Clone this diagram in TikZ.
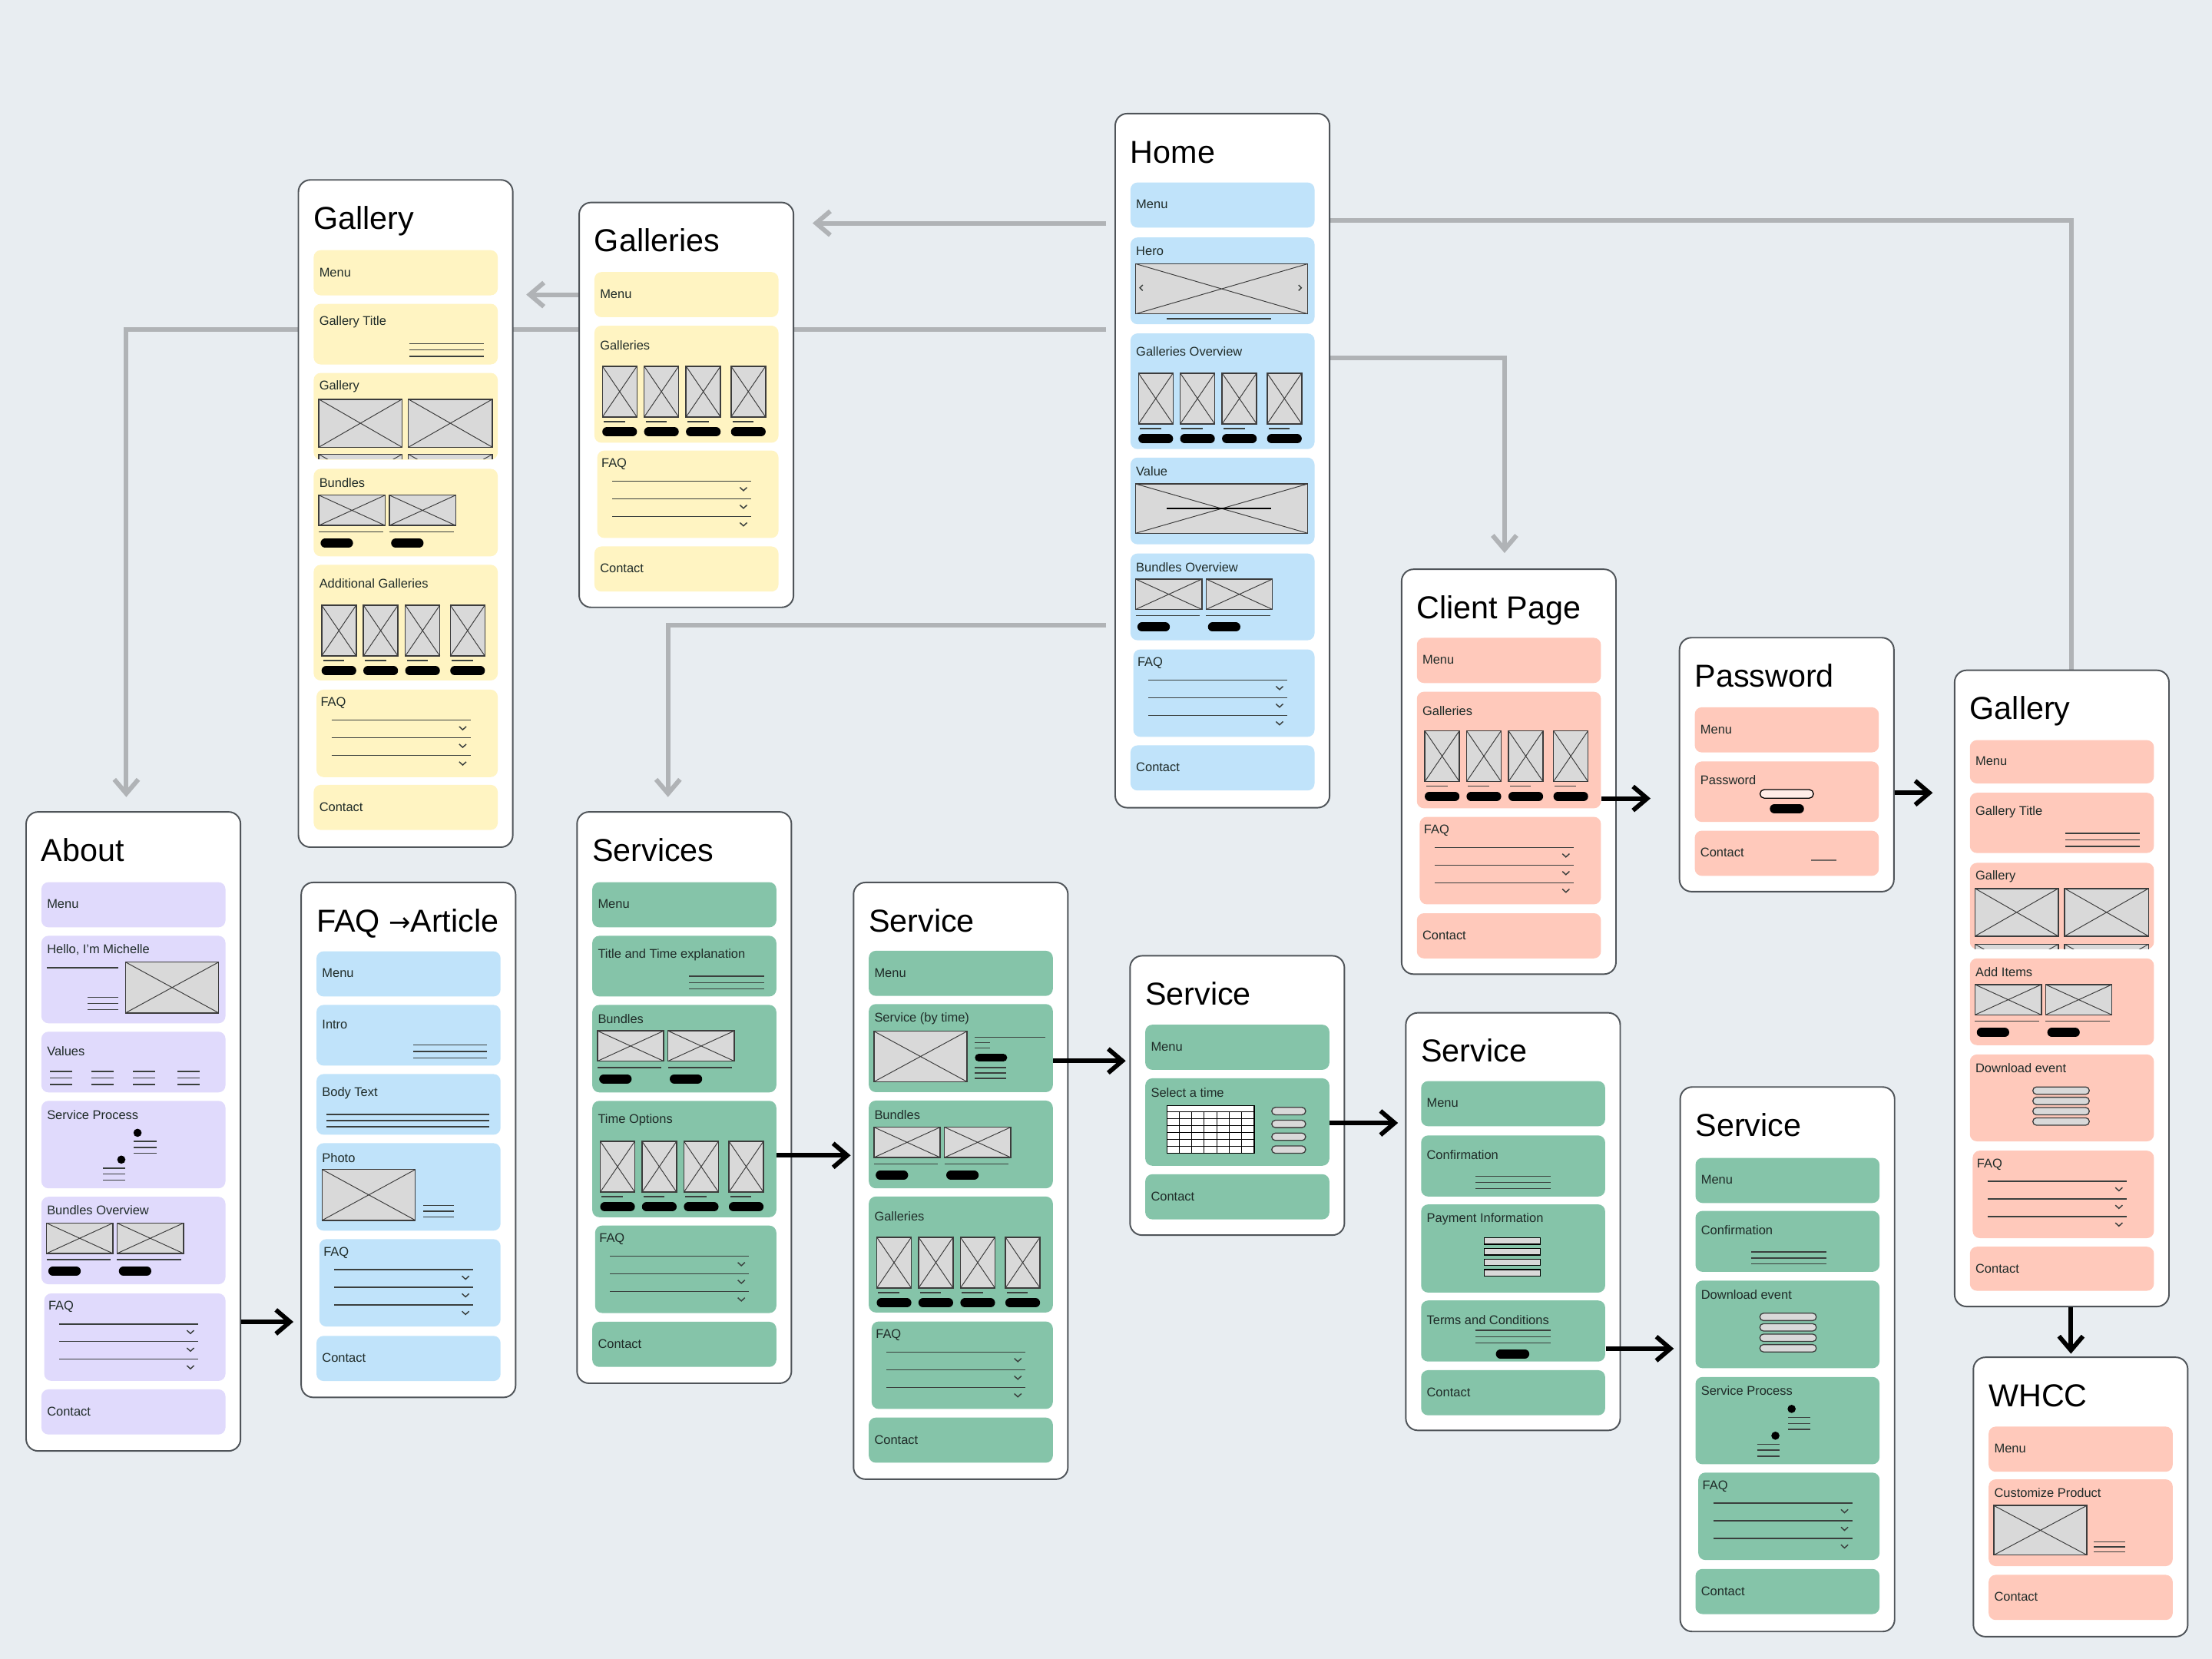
\documentclass[tikz,border=0pt]{standalone}
\usepackage{fontspec}
\setmainfont{Liberation Sans}
\newfontfamily\arrowfont{DejaVu Sans}
\usetikzlibrary{arrows.meta}
\definecolor{canvas}{HTML}{E8EDF1}
\definecolor{cardline}{HTML}{4F5459}
\definecolor{wfblue}{HTML}{C0E3FA}
\definecolor{wfyellow}{HTML}{FFF4C2}
\definecolor{wfpurple}{HTML}{E0DAFC}
\definecolor{wfgreen}{HTML}{85C4A9}
\definecolor{wfsalmon}{HTML}{FFC9BB}
\definecolor{imgfill}{HTML}{D9D9D9}
\definecolor{imgline}{HTML}{3C3C3C}
\definecolor{ruleink}{HTML}{3A3F3D}
\definecolor{labelink}{HTML}{1F2B28}
\definecolor{linkgray}{HTML}{B0B3B6}
\colorlet{sectcol}{wfblue}

\pgfdeclarelayer{bg}
\pgfsetlayers{bg,main}

% page card with its title, sets the card's left edge
\newcommand{\wfcard}[5]{%
  \node[card, minimum height={#4*0.02cm}] (#1) at (#2,#3) {};
  \node[cardtitle] (#1-title) at ({#2+11},{#3+35.5}) {#5};
  \def\wfcx{#2}}
% coloured section: name, top, bottom, label y, label
\newcommand{\wfsec}[5]{%
  \node[sect, minimum height={((#3)-(#2))*0.02cm}] (#1) at ({\wfcx+11},{#2}) {};
  \node[seclabel] (#1-label) at ({\wfcx+15},{#4}) {#5};}
\newcommand{\wfbar}[3]{\wfsec{#1}{#2}{#2+32}{#2+16}{#3}}
% image placeholder
\newcommand{\wfimg}[4]{%
  \draw[imgbox] ({#1},{#2}) rectangle ({#3},{#4});
  \draw[imgx] ({#1},{#2}) -- ({#3},{#4}) ({#1},{#4}) -- ({#3},{#2});}
% three text lines
\newcommand{\wflines}[4]{%
  \foreach \wfk in {0,1,2} {\draw[rule] ({#1},{#3+#4*\wfk}) -- ({#2},{#3+#4*\wfk});}}
% FAQ accordion
\newcommand{\wffaq}[2]{%
  \node[sect, minimum width=2.57cm, minimum height=1.24cm] (#1) at ({\wfcx+13},{#2}) {};
  \node[seclabel] (#1-label) at ({\wfcx+16},{#2+10}) {FAQ};
  \foreach \wfk in {0,1,2} {
    \draw[rule] ({\wfcx+24},{#2+22+12.5*\wfk}) -- ({\wfcx+122.5},{#2+22+12.5*\wfk});
    \draw[rule] ({\wfcx+114.5},{#2+26.5+12.5*\wfk}) -- ({\wfcx+117},{#2+28.8+12.5*\wfk}) -- ({\wfcx+119.5},{#2+26.5+12.5*\wfk});
  }}
% four portrait thumbnails with buttons
\newcommand{\wfthumbs}[1]{%
  \foreach \wfx in {17,46.6,76.3,108.2} {
    \wfimg{\wfcx+\wfx}{#1}{\wfcx+\wfx+24.5}{#1+36}
    \draw[rule] ({\wfcx+\wfx+1},{#1+39.3}) -- ({\wfcx+\wfx+16},{#1+39.3});
    \draw[pill] ({\wfcx+\wfx+3.2},{#1+46.5}) -- ({\wfcx+\wfx+21.3},{#1+46.5});
  }}
% two bundle cards
\newcommand{\wfbundles}[1]{%
  \foreach \wfx in {15,65} {
    \wfimg{\wfcx+\wfx}{#1}{\wfcx+\wfx+47}{#1+21.5}
    \draw[rule] ({\wfcx+\wfx},{#1+26}) -- ({\wfcx+\wfx+45.5},{#1+26});
    \draw[pill] ({\wfcx+\wfx+4.5},{#1+34}) -- ({\wfcx+\wfx+21},{#1+34});
  }}
% two process steps
\newcommand{\wfprocess}[1]{%
  \fill[black] ({\wfcx+79.5},{#1+23}) circle (0.058cm);
  \wflines{\wfcx+77}{\wfcx+93}{#1+29}{4.3}
  \fill[black] ({\wfcx+68},{#1+42}) circle (0.058cm);
  \wflines{\wfcx+55}{\wfcx+71}{#1+48}{4.3}}
% stacked option buttons
\newcommand{\wfoptions}[4]{%
  \foreach \wfk in {0,1,2,3} {\draw[optbox] ({#1},{#3+#4*\wfk-2.6}) rectangle ({#2},{#3+#4*\wfk+2.6});}}

\begin{document}
\begin{tikzpicture}[x=0.02cm, y=-0.02cm]
  % styles
  \tikzstyle{card} = [draw=cardline, fill=white, line width=0.6pt, rounded corners=0.17cm, minimum width=3.04cm, anchor=north west, inner sep=0]
  \tikzstyle{cardtitle} = [anchor=base west, inner sep=0, font=\fontsize{12.8}{14}\selectfont]
  \tikzstyle{sect} = [fill=sectcol, rounded corners=0.1cm, minimum width=2.61cm, anchor=north west, inner sep=0]
  \tikzstyle{seclabel} = [anchor=west, inner sep=0, text=labelink, font=\fontsize{5.1}{6}\selectfont]
  \tikzstyle{rule} = [draw=ruleink, line width=0.45pt]
  \tikzstyle{imgbox} = [fill=imgfill, draw=imgline, line width=0.45pt]
  \tikzstyle{imgx} = [draw=imgline, line width=0.3pt]
  \tikzstyle{pill} = [draw=black, line width=0.13cm, line cap=round]
  \tikzstyle{optbox} = [fill=imgfill, draw=imgline, line width=0.4pt, rounded corners=0.05cm]
  \tikzstyle{link} = [draw=linkgray, line width=1.85pt]
  \tikzstyle{flow} = [draw=black, line width=1.8pt]
  \tikzstyle{barb} = [-{Straight Barb[length=0.2cm, width=0.34cm]}]

  \useasboundingbox (0,0) rectangle (1568,1176);
  \begin{pgfonlayer}{bg}
    \fill[canvas] (0,0) rectangle (1568,1176);
  \end{pgfonlayer}

  % Home
  \colorlet{sectcol}{wfblue}
  \wfcard{home}{790}{80}{492}{Home}
  \wfbar{home-menu}{129}{Menu}
  \wfsec{home-hero}{168}{229.5}{178}{Hero}
  \wfimg{\wfcx+15}{187}{\wfcx+137}{222.5}
  \draw[rule] ({\wfcx+20},202) -- ({\wfcx+18},204) -- ({\wfcx+20},206);
  \draw[rule] ({\wfcx+130.5},202) -- ({\wfcx+132.5},204) -- ({\wfcx+130.5},206);
  \draw[rule] ({\wfcx+37},226) -- ({\wfcx+111},226);
  \wfsec{home-galleries}{236}{318}{249}{Galleries Overview}
  \wfthumbs{264.5}
  \wfsec{home-value}{324}{385.5}{334}{Value}
  \wfimg{\wfcx+15}{343}{\wfcx+137}{378}
  \draw[black, line width=0.8pt] ({\wfcx+37},360.5) -- ({\wfcx+111},360.5);
  \wfsec{home-bundles}{392}{453.5}{402}{Bundles Overview}
  \wfbundles{410.5}
  \wffaq{home-faq}{460}
  \wfbar{home-contact}{528}{Contact}

  % Gallery (public)
  \colorlet{sectcol}{wfyellow}
  \wfcard{gallery}{211}{127}{473}{Gallery}
  \wfbar{gallery-menu}{177}{Menu}
  \wfsec{gallery-heading}{215}{258}{228.5}{Gallery Title}
  \wflines{\wfcx+79}{\wfcx+132}{243.5}{4.5}
  \wfsec{gallery-grid}{264}{325.5}{274}{Gallery}
  \wfimg{\wfcx+15}{283}{\wfcx+74}{317}
  \wfimg{\wfcx+78.5}{283}{\wfcx+138}{317}
  \begin{scope}
    \clip ({\wfcx+11},264) rectangle ({\wfcx+141.5},325.5);
    \wfimg{\wfcx+15}{322}{\wfcx+74}{356}
    \wfimg{\wfcx+78.5}{322}{\wfcx+138}{356}
  \end{scope}
  \wfsec{gallery-bundles}{332}{394}{342}{Bundles}
  \wfbundles{351}
  \wfsec{gallery-more}{400}{482}{413.5}{Additional Galleries}
  \wfthumbs{429}
  \wffaq{gallery-faq}{488.5}
  \wfbar{gallery-contact}{556}{Contact}

  % Galleries
  \wfcard{galleries}{410}{143}{287}{Galleries}
  \wfbar{galleries-menu}{192.5}{Menu}
  \wfsec{galleries-list}{230.5}{313.5}{244.7}{Galleries}
  \wfthumbs{259.6}
  \wffaq{galleries-faq}{319}
  \wfbar{galleries-contact}{387}{Contact}

  % About
  \colorlet{sectcol}{wfpurple}
  \wfcard{about}{18}{575}{453}{About}
  \wfbar{about-menu}{625}{Menu}
  \wfsec{about-hello}{663}{725}{673.5}{Hello, I’m Michelle}
  \draw[rule] ({\wfcx+15},686) -- ({\wfcx+66},686);
  \wflines{\wfcx+44}{\wfcx+66}{707}{4.3}
  \wfimg{\wfcx+71}{682}{\wfcx+137}{718}
  \wfsec{about-values}{731}{774}{745}{Values}
  \foreach \wfx in {17.6,46.6,76.4,108} {\wflines{\wfcx+\wfx}{\wfcx+\wfx+15.8}{759.5}{4.6}}
  \wfsec{about-process}{780}{842}{790.5}{Service Process}
  \wfprocess{780}
  \wfsec{about-bundles}{848}{910}{858}{Bundles Overview}
  \wfbundles{867}
  \wffaq{about-faq}{916.5}
  \wfbar{about-contact}{984.5}{Contact}

  % FAQ article
  \colorlet{sectcol}{wfblue}
  \wfcard{article}{213}{625}{365}{FAQ {\arrowfont\fontsize{10.5}{12}\selectfont\raisebox{0.3pt}{→}}Article}
  \wfbar{article-menu}{674}{Menu}
  \wfsec{article-intro}{712}{755}{726}{Intro}
  \wflines{\wfcx+80}{\wfcx+132}{740.8}{4.6}
  \wfsec{article-body}{761}{804}{775}{Body Text}
  \wflines{\wfcx+18.6}{\wfcx+134}{790}{4.3}
  \wfsec{article-photo}{810}{872}{820.6}{Photo}
  \wfimg{\wfcx+15.4}{829}{\wfcx+81.4}{865}
  \wflines{\wfcx+87}{\wfcx+109}{854.4}{4.1}
  \wffaq{article-faq}{878}
  \wfbar{article-contact}{946.6}{Contact}

  % Services
  \colorlet{sectcol}{wfgreen}
  \wfcard{services}{408.5}{575}{405}{Services}
  \wfbar{services-menu}{625}{Menu}
  \wfsec{services-intro}{663}{706}{677}{Title and Time explanation}
  \wflines{\wfcx+80}{\wfcx+133}{692}{4.5}
  \wfsec{services-bundles}{712}{774}{722}{Bundles}
  \wfbundles{730.7}
  \wfsec{services-time}{780}{862.5}{794}{Time Options}
  \wfthumbs{809}
  \wffaq{services-faq}{868.4}
  \wfbar{services-contact}{936.6}{Contact}

  % Service (by time)
  \wfcard{byTime}{604.5}{625}{423}{Service}
  \wfbar{byTime-menu}{673.6}{Menu}
  \wfsec{byTime-service}{711.4}{773.8}{722}{Service (by time)}
  \wfimg{\wfcx+15}{731}{\wfcx+81}{766.8}
  \draw[rule] ({\wfcx+86.5},735.2) -- ({\wfcx+136.3},735.2);
  \draw[rule] ({\wfcx+86.5},739) -- ({\wfcx+97.5},739);
  \draw[rule] ({\wfcx+86.5},742.8) -- ({\wfcx+97.5},742.8);
  \draw[pill, line width=0.11cm] ({\wfcx+89.3},749.8) -- ({\wfcx+106.7},749.8);
  \wflines{\wfcx+86.5}{\wfcx+108.5}{756.8}{3.8}
  \wfsec{byTime-bundles}{779.8}{842}{790.3}{Bundles}
  \wfbundles{799}
  \wfsec{byTime-galleries}{847.8}{930}{862}{Galleries}
  \wfthumbs{877}
  \wffaq{byTime-faq}{936.4}
  \wfbar{byTime-contact}{1004.5}{Contact}

  % Service (select a time)
  \wfcard{pickTime}{800.5}{677}{198}{Service}
  \wfbar{pickTime-menu}{726}{Menu}
  \wfsec{pickTime-select}{764}{826}{774.4}{Select a time}
  \draw[fill=white, draw=black, line width=0.4pt] ({\wfcx+26.6},783.9) rectangle ({\wfcx+88.5},817.5);
  \foreach \wfk in {1,...,6} {\draw[black, line width=0.35pt] ({\wfcx+26.6+8.843*\wfk},788.2) -- ({\wfcx+26.6+8.843*\wfk},817.5);}
  \foreach \wfk in {0,...,5} {\draw[black, line width=0.35pt] ({\wfcx+26.6},{788.2+4.883*\wfk}) -- ({\wfcx+88.5},{788.2+4.883*\wfk});}
  \wfoptions{\wfcx+101}{\wfcx+125}{787.6}{9.1}
  \wfbar{pickTime-contact}{832}{Contact}

  % Service (confirmation)
  \wfcard{confirm}{996}{717.4}{296}{Service}
  \wfbar{confirm-menu}{766}{Menu}
  \wfsec{confirm-check}{804.5}{847.8}{818.6}{Confirmation}
  \wflines{\wfcx+50}{\wfcx+103}{833.7}{4.35}
  \wfsec{confirm-payment}{853.4}{915.9}{864}{Payment Information}
  \foreach \wfk in {0,1,2,3} {\draw[imgbox, draw=black] ({\wfcx+56},{877.5+7.5*\wfk}) rectangle ({\wfcx+96},{882+7.5*\wfk});}
  \wfsec{confirm-terms}{921.5}{964.8}{935.6}{Terms and Conditions}
  \wflines{\wfcx+50}{\wfcx+103}{943}{4.5}
  \draw[pill] ({\wfcx+67.6},959.7) -- ({\wfcx+84.8},959.7);
  \wfbar{confirm-contact}{970.9}{Contact}

  % Service (after booking)
  \wfcard{booked}{1190.5}{770}{386}{Service}
  \wfbar{booked-menu}{820.4}{Menu}
  \wfsec{booked-check}{858}{901.2}{872}{Confirmation}
  \wflines{\wfcx+51}{\wfcx+104}{887.4}{4.3}
  \wfsec{booked-download}{907.4}{969.5}{917.8}{Download event}
  \wfoptions{\wfcx+57}{\wfcx+97}{933.5}{7.4}
  \wfsec{booked-process}{975.7}{1037.6}{985.8}{Service Process}
  \wfprocess{975.7}
  \wffaq{booked-faq}{1043.5}
  \wfbar{booked-contact}{1111.8}{Contact}

  % Client page
  \colorlet{sectcol}{wfsalmon}
  \wfcard{client}{993}{403}{287}{Client Page}
  \wfbar{client-menu}{451.8}{Menu}
  \wfsec{client-galleries}{490}{572.6}{503.7}{Galleries}
  \wfthumbs{518}
  \wffaq{client-faq}{578.7}
  \wfbar{client-contact}{647}{Contact}

  % Password
  \wfcard{password}{1190}{451.5}{180}{Password}
  \wfbar{password-menu}{501}{Menu}
  \wfsec{password-form}{539.4}{582.3}{553}{Password}
  \draw[fill=wfsalmon!35!white, draw=black, line width=0.4pt, rounded corners=0.06cm] ({\wfcx+57.6},559.7) rectangle ({\wfcx+95.5},565.8);
  \draw[pill] ({\wfcx+67.8},573.3) -- ({\wfcx+85.5},573.3);
  \wfbar{password-contact}{588.5}{Contact}
  \draw[draw=ruleink!70!wfsalmon, line width=0.45pt] ({\wfcx+94},609.8) -- ({\wfcx+112},609.8);

  % Gallery (client)
  \wfcard{clientGallery}{1385}{474.6}{451}{Gallery}
  \wfsec{clientGallery-menu}{524.3}{555}{539.6}{Menu}
  \wfsec{clientGallery-heading}{561.6}{604.3}{575.7}{Gallery Title}
  \wflines{\wfcx+79}{\wfcx+132}{590.6}{4.65}
  \wfsec{clientGallery-grid}{611.3}{672.4}{621.4}{Gallery}
  \wfimg{\wfcx+15}{629.8}{\wfcx+74}{663.6}
  \wfimg{\wfcx+78.5}{629.8}{\wfcx+138}{663.6}
  \begin{scope}
    \clip ({\wfcx+11},611.3) rectangle ({\wfcx+141.5},672.4);
    \wfimg{\wfcx+15}{669.3}{\wfcx+74}{703}
    \wfimg{\wfcx+78.5}{669.3}{\wfcx+138}{703}
  \end{scope}
  \wfsec{clientGallery-items}{679}{740.5}{689}{Add Items}
  \wfbundles{697.9}
  \wfsec{clientGallery-download}{747.1}{808.7}{757.2}{Download event}
  \wfoptions{\wfcx+56}{\wfcx+96}{773.1}{7.3}
  \wffaq{clientGallery-faq}{815.3}
  \wfsec{clientGallery-contact}{883.4}{914.6}{899.2}{Contact}

  % WHCC
  \wfcard{whcc}{1398.3}{961.6}{198}{WHCC}
  \wfbar{whcc-menu}{1010.9}{Menu}
  \wfsec{whcc-product}{1048.3}{1109.8}{1058.4}{Customize Product}
  \wfimg{\wfcx+15}{1067.2}{\wfcx+81}{1102.3}
  \wflines{\wfcx+86}{\wfcx+108}{1093}{3.5}
  \wfbar{whcc-contact}{1116}{Contact}

  % Grey links from Home
  \begin{pgfonlayer}{bg}
    \draw[link, barb, shorten <=0.12cm, shorten >=0.26cm] (home.west |- 0,158.2) -- (galleries.east |- 0,158.2);
    \draw[link, barb, shorten <=0.12cm, shorten >=0.2cm] (home.west |- 0,233.6) -| ([xshift=-0.1cm]about.north);
    \draw[link, barb, shorten >=0.18cm] (galleries.west |- galleries-menu) -- (gallery.east |- galleries-menu);
    \draw[link, barb, shorten <=0.12cm, shorten >=0.2cm] (home.west |- 0,443) -| ([xshift=-0.23cm]services.north);
    \draw[link] (home.east |- 0,156) -| ([xshift=0.14cm]clientGallery.north);
    \draw[link, barb, shorten >=0.22cm] (home.east |- 0,253.5) -| ([xshift=-0.06cm]client.north);
  \end{pgfonlayer}

  % Black flow arrows
  \draw[flow, barb, shorten >=0.1cm] (about.east |- 0,937) -- (article.west |- 0,937);
  \draw[flow, barb, shorten >=0.03cm] (services-time.east |- 0,819) -- (byTime.west |- 0,819);
  \draw[flow, barb, shorten >=0.05cm] (byTime-service.east |- 0,752) -- (pickTime.west |- 0,752);
  \draw[flow, barb, shorten >=0.1cm] (pickTime-select.east |- 0,796) -- (confirm.west |- 0,796);
  \draw[flow, barb, shorten >=0.08cm] (confirm-terms.east |- 0,956) -- (booked.west |- 0,956);
  \draw[flow, barb, shorten >=0.4cm] (client-galleries.east |- 0,566) -- (password.west |- 0,566);
  \draw[flow, barb, shorten >=0.3cm] (password.east |- 0,562) -- (clientGallery.west |- 0,562);
  \draw[flow, barb, shorten >=0.04cm] (clientGallery.south -| 1468,0) -- (whcc.north -| 1468,0);
\end{tikzpicture}
\end{document}
